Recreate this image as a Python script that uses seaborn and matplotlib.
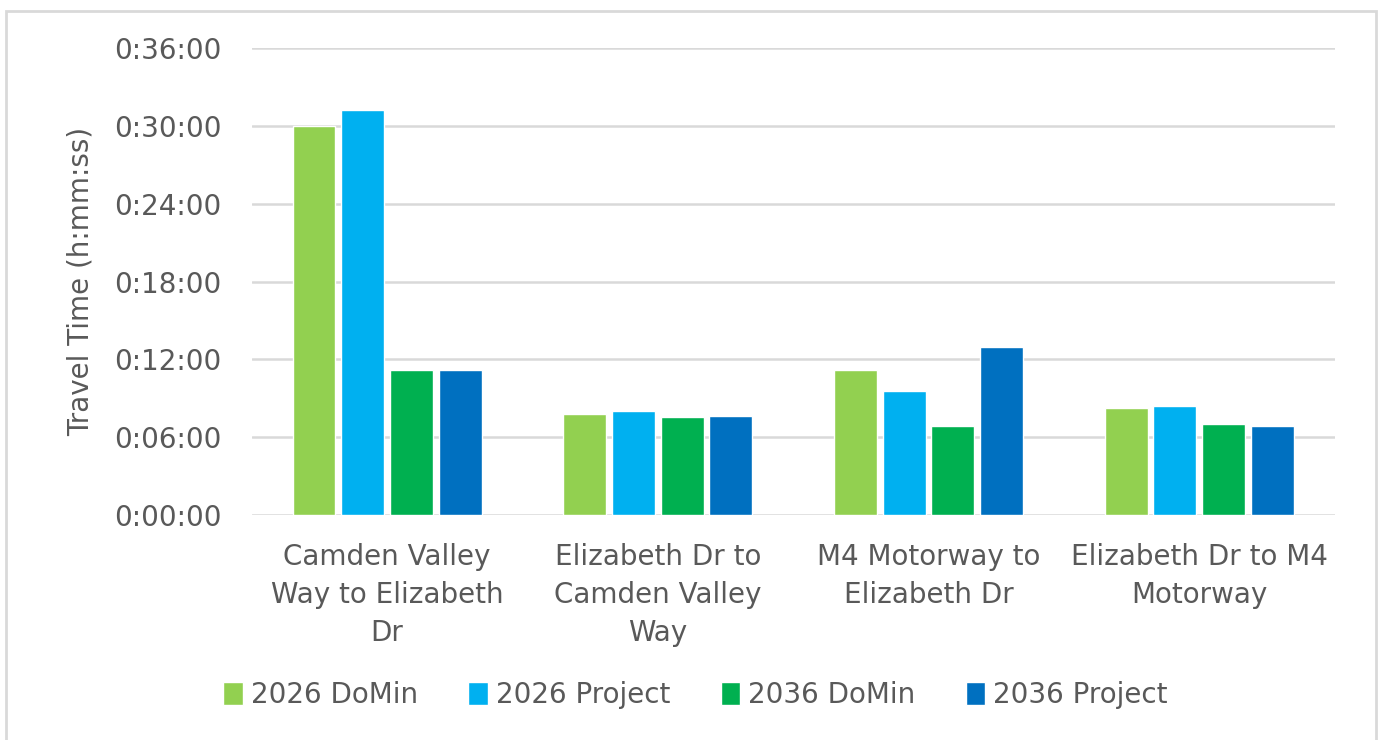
import pandas as pd
import matplotlib.pyplot as plt
import seaborn as sns
from matplotlib.ticker import FuncFormatter, MultipleLocator
from matplotlib.patches import Rectangle


ROUTES = [
    'Camden Valley\nWay to Elizabeth\nDr',
    'Elizabeth Dr to\nCamden Valley\nWay',
    'M4 Motorway to\nElizabeth Dr',
    'Elizabeth Dr to M4\nMotorway',
]
SCENARIOS = ['2026 DoMin', '2026 Project', '2036 DoMin', '2036 Project']
COLORS = ['#92D050', '#00B0F0', '#00B050', '#0070C0']

# travel times in seconds, one list per scenario
DOMIN_2026 = [30 * 60, 7 * 60 + 46, 11 * 60 + 12, 8 * 60 + 16]
PROJECT_2026 = [31 * 60 + 14, 8 * 60 + 2, 9 * 60 + 34, 8 * 60 + 26]
DOMIN_2036 = [11 * 60 + 9, 7 * 60 + 32, 6 * 60 + 54, 7 * 60 + 2]
PROJECT_2036 = [11 * 60 + 9, 7 * 60 + 39, 12 * 60 + 58, 6 * 60 + 54]


def hms(x, pos):
    x = int(round(x))
    return f'{x // 3600}:{(x % 3600) // 60:02d}:{x % 60:02d}'


def travel_time_graph():
    rows = []
    for name, vals in zip(SCENARIOS, [DOMIN_2026, PROJECT_2026, DOMIN_2036, PROJECT_2036]):
        for route, v in zip(ROUTES, vals):
            rows.append({'Route': route, 'Scenario': name, 'Seconds': v})
    df = pd.DataFrame(rows)

    sns.set_style('white')
    plt.rcParams['font.family'] = ['DejaVu Sans']
    text_color = '#595959'

    fig = plt.figure(figsize=(13.83, 7.4), dpi=100)
    ax = fig.add_axes([0.182, 0.304, 0.783, 0.631])

    sns.barplot(data=df, x='Route', y='Seconds', hue='Scenario', order=ROUTES,
                hue_order=SCENARIOS, palette=COLORS, width=0.72, gap=0.12,
                saturation=1, ax=ax, legend=True)

    ax.set_ylim(0, 36 * 60)
    ax.yaxis.set_major_locator(MultipleLocator(6 * 60))
    ax.yaxis.set_major_formatter(FuncFormatter(hms))
    ax.grid(axis='y', color='#d9d9d9', linewidth=1.8)
    ax.set_axisbelow(True)
    for s in ax.spines.values():
        s.set_visible(False)
    ax.tick_params(axis='y', length=0, labelsize=20, colors=text_color, pad=22)
    ax.tick_params(axis='x', length=0, labelsize=20, colors=text_color, pad=20)
    for lbl in ax.get_xticklabels():
        lbl.set_linespacing(1.45)
        lbl.set_verticalalignment('top')

    ax.set_xlabel('')
    ax.set_ylabel('Travel Time (h:mm:ss)', fontsize=20, color=text_color, labelpad=14)

    handles, labels = ax.get_legend_handles_labels()
    ax.get_legend().remove()
    fig.legend(handles, labels, loc='center', bbox_to_anchor=(0.503, 0.061), ncol=4,
               frameon=False, fontsize=20, labelcolor=text_color, handlelength=0.7,
               handleheight=0.9, handletextpad=0.3, columnspacing=1.8)

    # chart frame
    fig.patches.append(Rectangle((6 / 1383, -0.05), 1370 / 1383, 1.05 - 11 / 740,
                                 transform=fig.transFigure, fill=False,
                                 edgecolor='#d9d9d9', linewidth=2))

    fig.savefig('out.png', dpi=100)


if __name__ == "__main__":
    travel_time_graph()
